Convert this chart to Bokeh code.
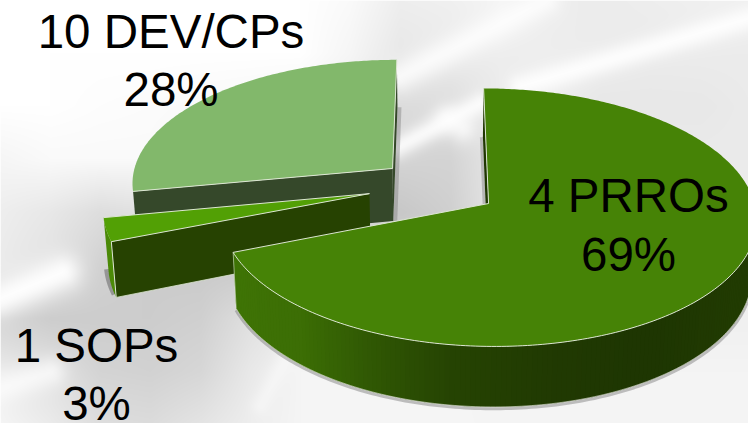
import numpy as np
from bokeh.plotting import figure
from bokeh.models import Range1d, ColumnDataSource
from bokeh.core.properties import value
from bokeh.embed import file_html
from bokeh.resources import INLINE

# ---- chart data ----
categories = ["4 PRROs", "1 SOPs", "10 DEV/CPs"]
shares = [69, 3, 28]
top_colors = ["#468306", "#52A005", "#82B86B"]
wall_colors = ["#1F3602", "#264201", "#35482A"]
rim_color_sop = "#4B8A07"

# ---- pie geometry (perspective view, reference pixels) ----
EXPLODE = [(0.192, 0.0), (-0.258, -0.078), (-0.174, -0.283)]
VX, CY, R, RQ, K = 437.0, 203.0, 266.0, 127.5, 0.108
THICK, TAPER = 54.0, 0.985
EDGE = "#DCE6D2"
W, H = 748, 423


def sy(y):
    return H - np.asarray(y, dtype=float)


def proj(X, Y, z=0.0):
    X, Y = np.asarray(X, float), np.asarray(Y, float)
    w = 1 - K * Y
    x = VX + R * X / w
    y = CY + RQ * Y / w
    if z:
        x = VX + (x - VX) * TAPER
        y = y + THICK / w
    return x, y


def arc(a0, a1, n, off):
    th = np.radians(np.linspace(a0, a1, n))
    return np.sin(th) + off[0], -np.cos(th) + off[1]


# ---- soft grey backdrop ----
bg_x = np.arange(0, 751, 50)
bg_y = np.array([0, 53, 106, 159, 212, 265, 318, 371, 423])
bg_grid = np.array([
    [255, 255, 255, 255, 255, 255, 255, 250, 238, 240, 245, 238, 236, 238, 240, 240],
    [255, 255, 255, 255, 255, 255, 255, 246, 232, 235, 238, 238, 236, 235, 236, 236],
    [255, 255, 253, 252, 250, 248, 245, 238, 220, 222, 235, 238, 232, 232, 232, 235],
    [246, 250, 250, 250, 245, 240, 235, 228, 212, 212, 232, 235, 235, 235, 235, 235],
    [238, 232, 222, 226, 230, 232, 228, 222, 200, 208, 232, 235, 238, 238, 238, 238],
    [235, 226, 210, 204, 202, 202, 205, 210, 216, 225, 235, 238, 240, 240, 240, 240],
    [212, 205, 205, 205, 208, 224, 236, 240, 240, 240, 240, 240, 240, 240, 240, 240],
    [235, 225, 212, 210, 215, 233, 245, 245, 245, 245, 244, 244, 244, 244, 244, 244],
    [245, 235, 222, 220, 228, 238, 245, 246, 246, 246, 244, 244, 244, 244, 244, 244],
], dtype=float)
bg_light = [  # x0, y0, x1, y1, sigma, strength
    (0, 298, 62, 272, 13, 0.95),
    (0, 388, 50, 372, 11, 0.7),
    (400, 76, 545, 0, 11, 0.8),
    (520, 86, 748, 18, 9, 0.9),
    (397, 147, 480, 103, 8, 0.85),
    (447, 118, 462, 128, 10, 0.7),
    (260, 405, 300, 330, 7, 0.4),
]


def backdrop():
    px = np.arange(W) + 0.5
    py = np.arange(H) + 0.5
    rows = np.array([np.interp(px, bg_x, r) for r in bg_grid])
    g = np.array([np.interp(py, bg_y, rows[:, c]) for c in range(W)]).T
    xx, yy = np.meshgrid(px, py)
    for x0, y0, x1, y1, s, a in bg_light:
        dx, dy = x1 - x0, y1 - y0
        t = np.clip(((xx - x0) * dx + (yy - y0) * dy) / (dx * dx + dy * dy), 0, 1)
        d2 = (xx - x0 - t * dx) ** 2 + (yy - y0 - t * dy) ** 2
        g = g + (255 - g) * a * np.exp(-d2 / (2 * s * s))
    img = np.zeros(g.shape, dtype=np.uint32)
    v = img.view(dtype=np.uint8).reshape((g.shape[0], g.shape[1], 4))
    gi = np.clip(g, 0, 255).astype(np.uint8)
    v[..., 0] = v[..., 1] = v[..., 2] = gi
    v[..., 3] = 255
    return img[::-1]


p = figure(width=W, height=H, output_backend="svg", toolbar_location=None,
           x_range=Range1d(0, W), y_range=Range1d(0, H), min_border=0,
           outline_line_color=None, background_fill_color="white")
p.axis.visible = False
p.grid.visible = False
p.image_rgba(image=[backdrop()], x=0, y=0, dw=W, dh=H)

# ---- angles from the data ----
cum = np.cumsum([0] + shares) * 3.6
main_a, sop_a, dev_a = [(cum[i], cum[i + 1]) for i in range(3)]


def poly(xs, ys, color, alpha=1.0):
    p.patch(list(xs), list(sy(ys)), fill_color=color, line_color=None, fill_alpha=alpha)


def stroke(xs, ys, color=EDGE, width=1.0, alpha=1.0):
    p.line(list(xs), list(sy(ys)), line_color=color, line_width=width, line_alpha=alpha)


def wall(P, Q, color):
    x0, y0 = proj(*P)
    x1, y1 = proj(*Q)
    x2, y2 = proj(*Q, 1)
    x3, y3 = proj(*P, 1)
    poly([x0, x1, x2, x3], [y0, y1, y2, y3], color)


def edge_shadow(P, Q, dx=4.0):
    x0, y0 = proj(*P, 1)
    x1, y1 = proj(*Q, 1)
    poly([x0, x1, x1 + dx, x0 + dx], [y0, y1, y1, y0], "#777777", 0.4)


def surface(a0, a1, off, color):
    ax, ay = arc(a0, a1, max(int((a1 - a0) * 1.5), 8), off)
    xs, ys = proj(np.r_[off[0], ax], np.r_[off[1], ay])
    poly(xs, ys, color)
    return (xs, ys)


# ---- DEV/CPs slice ----
off = EXPLODE[2]
ax, ay = arc(dev_a[0], dev_a[1], 2, off)
edge_shadow((ax[1], ay[1]), off)
wall(off, (ax[1], ay[1]), wall_colors[2])
wall(off, (ax[0], ay[0]), wall_colors[2])
xs, ys = surface(dev_a[0], dev_a[1], off, top_colors[2])
stroke([xs[-1], xs[0], xs[1]], [ys[-1], ys[0], ys[1]])

# ---- SOPs slice ----
off = EXPLODE[1]
ax, ay = arc(sop_a[0], sop_a[1], 24, off)
bx, by = proj(ax, ay, 1)
stroke(bx - 2, by - 3, "#666666", 5, 0.55)
tx, ty = proj(ax, ay)
poly(np.r_[tx, bx[::-1]], np.r_[ty, by[::-1]], rim_color_sop)
wall(off, (ax[0], ay[0]), wall_colors[1])
xs, ys = surface(sop_a[0], sop_a[1], off, top_colors[1])
sx0, sy0 = proj(off[0], off[1])
sbx, sby = proj(ax[0], ay[0], 1)
sbx1, sby1 = proj(off[0], off[1], 1)
stroke([xs[-1], xs[0], xs[1]], [ys[-1], ys[0], ys[1]])
stroke([xs[1], sbx], [ys[1], sby])
stroke([sbx, sbx1], [sby, sby1], EDGE, 1, 0.8)

# ---- PRROs slice ----
off = EXPLODE[0]
ax, ay = arc(0, 0, 1, off)
edge_shadow((ax[0], ay[0]), off, -3.0)
wall(off, (ax[0], ay[0]), wall_colors[0])
rim_a = (90.0, main_a[1])
ax, ay = arc(rim_a[0], rim_a[1], 160, off)
tx, ty = proj(ax, ay)
bx, by = proj(ax, ay, 1)
stroke(bx, by + 1.5, "#777777", 3.5, 0.45)
stops_x = [233, 300, 370, 450, 550, 650, 748]
stops_r = [0x3F, 0x3C, 0x30, 0x26, 0x21, 0x1E, 0x22]
stops_g = [0x74, 0x6E, 0x58, 0x44, 0x3A, 0x36, 0x3C]
stops_b = [0x06, 0x05, 0x04, 0x03, 0x02, 0x02, 0x03]
mid = (tx[:-1] + tx[1:]) / 2
cols = ["#%02x%02x%02x" % (int(r), int(g), int(b)) for r, g, b in zip(
    np.interp(mid, stops_x, stops_r), np.interp(mid, stops_x, stops_g), np.interp(mid, stops_x, stops_b))]
last = len(cols) - 1
rim = ColumnDataSource(dict(
    xs=[[tx[i], tx[min(i + 2, last + 1)], bx[min(i + 2, last + 1)], bx[i]] for i in range(len(cols))],
    ys=[list(sy([ty[i], ty[min(i + 2, last + 1)], by[min(i + 2, last + 1)], by[i]])) for i in range(len(cols))],
    c=cols))
p.patches("xs", "ys", source=rim, fill_color="c", line_color=None)
stroke(bx, by, "#E4E8DC", 0.8, 0.8)
xs, ys = surface(main_a[0], main_a[1], off, top_colors[0])
stroke(tx, ty)
stroke([xs[1], xs[0], xs[-1]], [ys[1], ys[0], ys[-1]])
stroke([tx[-1], bx[-1]], [ty[-1], by[-1]], EDGE, 1, 0.6)

# ---- labels ----
label_rows = [
    (categories[0], f"{shares[0]}%", 628, 195, 254),
    (categories[1], f"{shares[1]}%", 96, 345, 403),
    (categories[2], f"{shares[2]}%", 170.5, 31, 89),
]
for head, pct, cx, b0, b1 in label_rows:
    p.text(x=[cx, cx], y=list(sy([b0, b1])), text=[head, pct], text_align="center",
           text_baseline="middle", text_font=value("Liberation Sans"),
           text_font_size="47.5px", text_color="black")

open("out.html", "w").write(file_html(p, INLINE))
